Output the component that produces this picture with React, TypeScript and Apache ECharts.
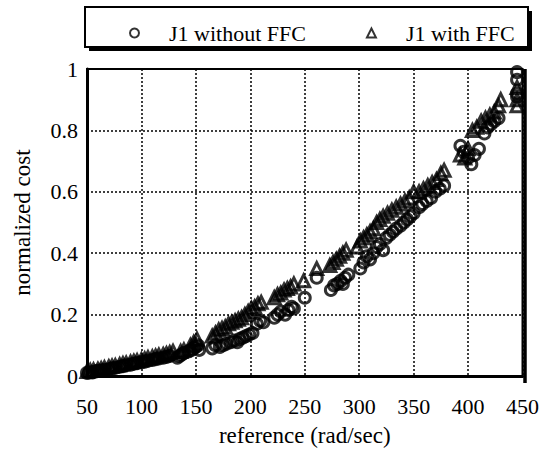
import React, { useEffect, useRef } from "react";
import * as echarts from "echarts";

const xTicks = [50, 100, 150, 200, 250, 300, 350, 400, 450];

const withoutFFC: [number, number][] = [
  [50, 0.01], [52, 0.012], [55, 0.012], [58, 0.015], [60, 0.017], [63, 0.018], [66, 0.02],
  [70, 0.022], [73, 0.025], [76, 0.027], [80, 0.03], [83, 0.032], [86, 0.035], [90, 0.037],
  [93, 0.04], [96, 0.042], [100, 0.045], [103, 0.047], [106, 0.05], [110, 0.052], [113, 0.055],
  [116, 0.057], [120, 0.06], [123, 0.062], [126, 0.065],
  [133, 0.06], [135, 0.065], [137, 0.07], [139, 0.075],
  [143, 0.08], [146, 0.085], [148, 0.09], [150, 0.095], [152, 0.1], [153, 0.085],
  [165, 0.09], [168, 0.1], [172, 0.095], [175, 0.1], [178, 0.105], [182, 0.11], [185, 0.115],
  [188, 0.11], [190, 0.12], [193, 0.125], [196, 0.13], [199, 0.135], [202, 0.14],
  [206, 0.17], [209, 0.18], [212, 0.175],
  [222, 0.19], [225, 0.2], [228, 0.21], [232, 0.2], [235, 0.215], [238, 0.225], [240, 0.22],
  [250, 0.255], [261, 0.32],
  [274, 0.28], [277, 0.295], [280, 0.3], [283, 0.31], [285, 0.3], [287, 0.32], [290, 0.33],
  [301, 0.35], [304, 0.37], [307, 0.39], [310, 0.38], [313, 0.4], [316, 0.42], [319, 0.43],
  [322, 0.41], [325, 0.45], [328, 0.46], [331, 0.47], [334, 0.48], [338, 0.49], [341, 0.5],
  [344, 0.51], [347, 0.52], [350, 0.53],
  [355, 0.55], [358, 0.56], [362, 0.57], [366, 0.58], [370, 0.6], [374, 0.61], [378, 0.62],
  [393, 0.75], [396, 0.73], [400, 0.71], [403, 0.69], [406, 0.72], [410, 0.74],
  [415, 0.79], [418, 0.81], [421, 0.82], [424, 0.83], [428, 0.84],
  [445, 0.99], [445, 0.965], [445, 0.92], [445, 0.91],
];

const withFFC: [number, number][] = [
  [50, 0.015], [53, 0.018], [56, 0.02], [60, 0.022], [63, 0.024], [66, 0.027], [70, 0.03],
  [73, 0.032], [76, 0.034], [80, 0.037], [83, 0.04], [86, 0.042], [90, 0.045], [93, 0.048],
  [96, 0.05], [100, 0.053], [103, 0.056], [106, 0.06], [110, 0.062], [113, 0.065],
  [116, 0.068], [120, 0.07], [123, 0.073], [126, 0.076], [129, 0.08],
  [136, 0.08], [139, 0.085],
  [145, 0.1], [148, 0.11], [151, 0.12],
  [165, 0.13], [168, 0.14], [171, 0.15], [174, 0.155], [177, 0.16], [180, 0.17], [183, 0.175],
  [186, 0.18], [189, 0.185], [192, 0.19], [195, 0.2], [198, 0.21], [201, 0.22], [204, 0.225],
  [207, 0.235], [210, 0.24],
  [222, 0.255], [225, 0.265], [228, 0.27], [231, 0.28], [234, 0.285], [237, 0.29], [240, 0.3],
  [249, 0.31], [261, 0.35],
  [273, 0.36], [276, 0.37], [279, 0.38], [282, 0.39], [285, 0.4], [288, 0.41],
  [298, 0.42], [301, 0.44], [304, 0.45], [307, 0.46], [310, 0.47], [313, 0.48], [316, 0.5],
  [319, 0.51], [322, 0.52], [326, 0.53], [330, 0.54], [334, 0.55], [338, 0.56], [342, 0.57],
  [346, 0.58], [350, 0.6],
  [355, 0.6], [359, 0.61], [363, 0.62], [367, 0.63], [371, 0.64], [375, 0.66], [378, 0.67],
  [393, 0.72], [397, 0.71], [400, 0.74],
  [404, 0.8], [408, 0.81], [412, 0.83], [416, 0.84], [420, 0.85], [424, 0.86], [428, 0.88],
  [430, 0.9],
  [445, 0.94], [445, 0.9], [445, 0.88],
];

const FONT = "Liberation Serif";

export default function App() {
  const ref = useRef<HTMLDivElement>(null);
  useEffect(() => {
    if (!ref.current) return;
    const chart = echarts.init(ref.current, null, { renderer: "svg" });
    const marker = {
      color: "rgba(0,0,0,0)",
      borderColor: "#000",
      borderWidth: 3,
    };
    chart.setOption({
      animation: false,
      backgroundColor: "#fff",
      textStyle: { fontFamily: FONT, color: "#000" },
      grid: {
        left: 87,
        right: 17,
        top: 69,
        bottom: 70,
        show: true,
        borderColor: "#000",
        borderWidth: 2,
      },
      graphic: [
        { type: "rect", z: -1, shape: { x: 89, y: 11, width: 443, height: 40 }, style: { fill: "#000" } },
        { type: "rect", z: 0, shape: { x: 85, y: 7, width: 443, height: 40 }, style: { fill: "#fff", stroke: "#000", lineWidth: 2 } },
        { type: "line", z: 5, shape: { x1: 525, y1: 69, x2: 525, y2: 383 }, style: { stroke: "#000", lineWidth: 3.5 } },
      ],
      legend: {
        left: 124,
        top: 17,
        z: 10,
        itemWidth: 9,
        itemHeight: 9,
        itemGap: 60,
        textStyle: { fontFamily: FONT, fontSize: 22, color: "#000", padding: [0, 0, 0, 25] },
        data: [
          { name: "J1 without FFC", icon: "circle" },
          { name: "J1 with FFC", icon: "triangle" },
        ],
      },
      xAxis: {
        type: "value",
        min: 50,
        max: 450,
        interval: 50,
        name: "reference (rad/sec)",
        nameLocation: "middle",
        nameGap: 48,
        nameTextStyle: { fontFamily: FONT, fontSize: 23, color: "#000" },
        axisLine: { show: true, lineStyle: { color: "#000", width: 3 } },
        axisTick: { show: false },
        axisLabel: { fontFamily: FONT, fontSize: 22, color: "#000", margin: 19, showMinLabel: true, showMaxLabel: true },
        splitLine: { show: true, lineStyle: { color: "#000", type: [2, 2], width: 1.5 } },
      },
      yAxis: {
        type: "value",
        min: 0,
        max: 1,
        interval: 0.2,
        name: "normalized cost",
        nameLocation: "middle",
        nameGap: 53,
        nameTextStyle: { fontFamily: FONT, fontSize: 23, color: "#000" },
        axisLine: { show: true, lineStyle: { color: "#000", width: 3 } },
        axisTick: { show: false },
        axisLabel: { fontFamily: FONT, fontSize: 22, color: "#000", margin: 9 },
        splitLine: { show: true, lineStyle: { color: "#000", type: [2, 2], width: 1.5 } },
      },
      series: [
        {
          name: "J1 without FFC",
          type: "scatter",
          symbol: "circle",
          symbolSize: 11,
          itemStyle: marker,
          data: withoutFFC,
        },
        {
          name: "J1 with FFC",
          type: "scatter",
          symbol: "triangle",
          symbolSize: 12,
          itemStyle: marker,
          data: withFFC,
        },
      ],
    });
    return () => chart.dispose();
  }, []);
  return <div ref={ref} style={{ width: 542, height: 452, position: "absolute", left: 0, top: 0 }} />;
}
